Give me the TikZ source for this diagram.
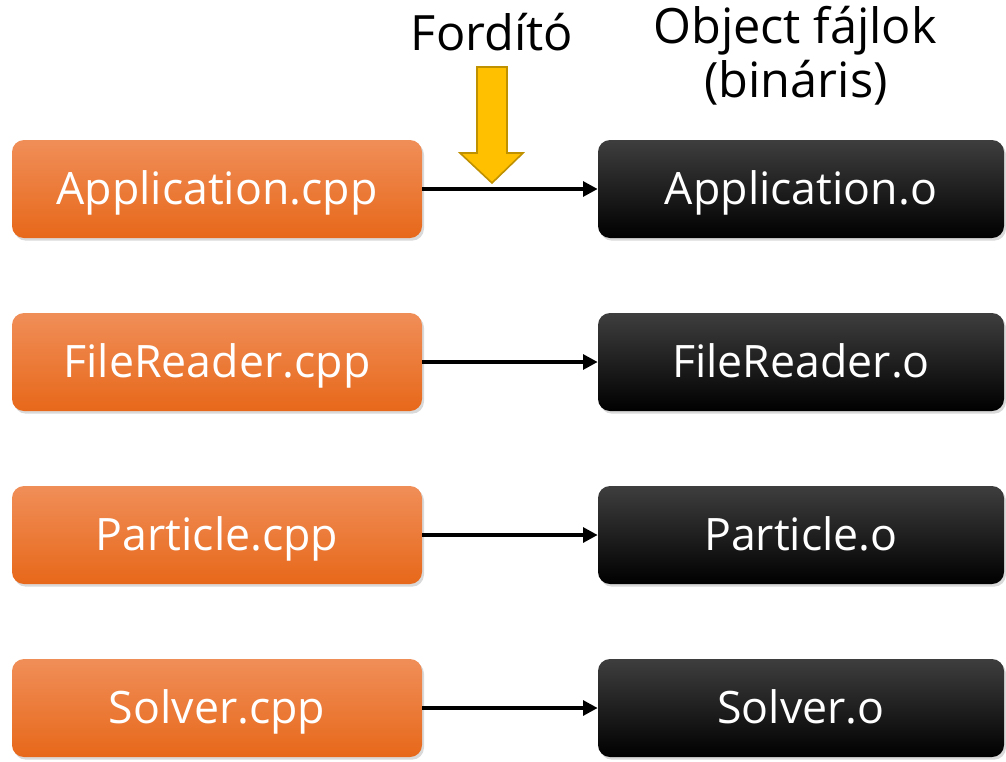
\documentclass[tikz,border=0pt]{standalone}
\usepackage{fontspec}
\setmainfont{Open Sans}
\usetikzlibrary{arrows.meta,shadows}

\definecolor{srcTop}{RGB}{240,142,88}
\definecolor{srcBottom}{RGB}{231,104,26}
\definecolor{objTop}{RGB}{62,62,62}
\definecolor{objBottom}{RGB}{0,0,0}
\definecolor{compFill}{RGB}{255,192,0}
\definecolor{compDraw}{RGB}{191,144,0}

\begin{document}
\begin{tikzpicture}[x=0.75pt,y=0.75pt,yscale=-1,xscale=1,
	srcbox/.style={rounded corners=9pt, top color=srcTop, bottom color=srcBottom, text=white,
		minimum width=307.5pt, minimum height=73.5pt, inner sep=0pt,
		text height=23.5pt, text depth=0pt,
		font=\fontsize{33.5}{40}\selectfont,
		drop shadow={shadow xshift=1.5pt, shadow yshift=-2pt, opacity=0.3}},
	objbox/.style={srcbox, top color=objTop, bottom color=objBottom, minimum width=304.5pt},
	flow/.style={line width=3pt, -{Triangle[length=11pt,width=11pt]}},
	heading/.style={inner sep=0pt, anchor=base, font=\fontsize{36.5}{40}\selectfont}
	]
	%set diagram size
	\useasboundingbox (0,0) rectangle (1006,761);
	
	% Source files
	\node [srcbox] (appSrc) at (217,189) {Application.cpp};
	\node [srcbox] (readerSrc) at (217,362) {FileReader.cpp};
	\node [srcbox] (particleSrc) at (217,535) {Particle.cpp};
	\node [srcbox] (solverSrc) at (217,708) {Solver.cpp};
	
	% Object files
	\node [objbox] (appObj) at (801,189) {Application.o};
	\node [objbox] (readerObj) at (801,362) {FileReader.o};
	\node [objbox] (particleObj) at (801,535) {Particle.o};
	\node [objbox] (solverObj) at (801,708) {Solver.o};
	
	% Compiler steps
	\draw [flow] (appSrc) -- (appObj);
	\draw [flow] (readerSrc) -- (readerObj);
	\draw [flow] (particleSrc) -- (particleObj);
	\draw [flow] (solverSrc) -- (solverObj);
	
	% Text Node
	\node [heading] (compiler) at (492,50) {Fordító};
	% Text Node
	\node [heading] (objTitle) at (795,43) {Object fájlok};
	% Text Node
	\node [heading] (objNote) at (796,97) {(bináris)};
	
	%Shape: Down Arrow
	\draw [compDraw, fill=compFill, line width=1.2pt, line join=miter] (477,67) -- (507,67) -- (507,153) -- (523,153) -- (492,183) -- (460,153) -- (477,153) -- cycle ;
	
\end{tikzpicture}
\end{document}
